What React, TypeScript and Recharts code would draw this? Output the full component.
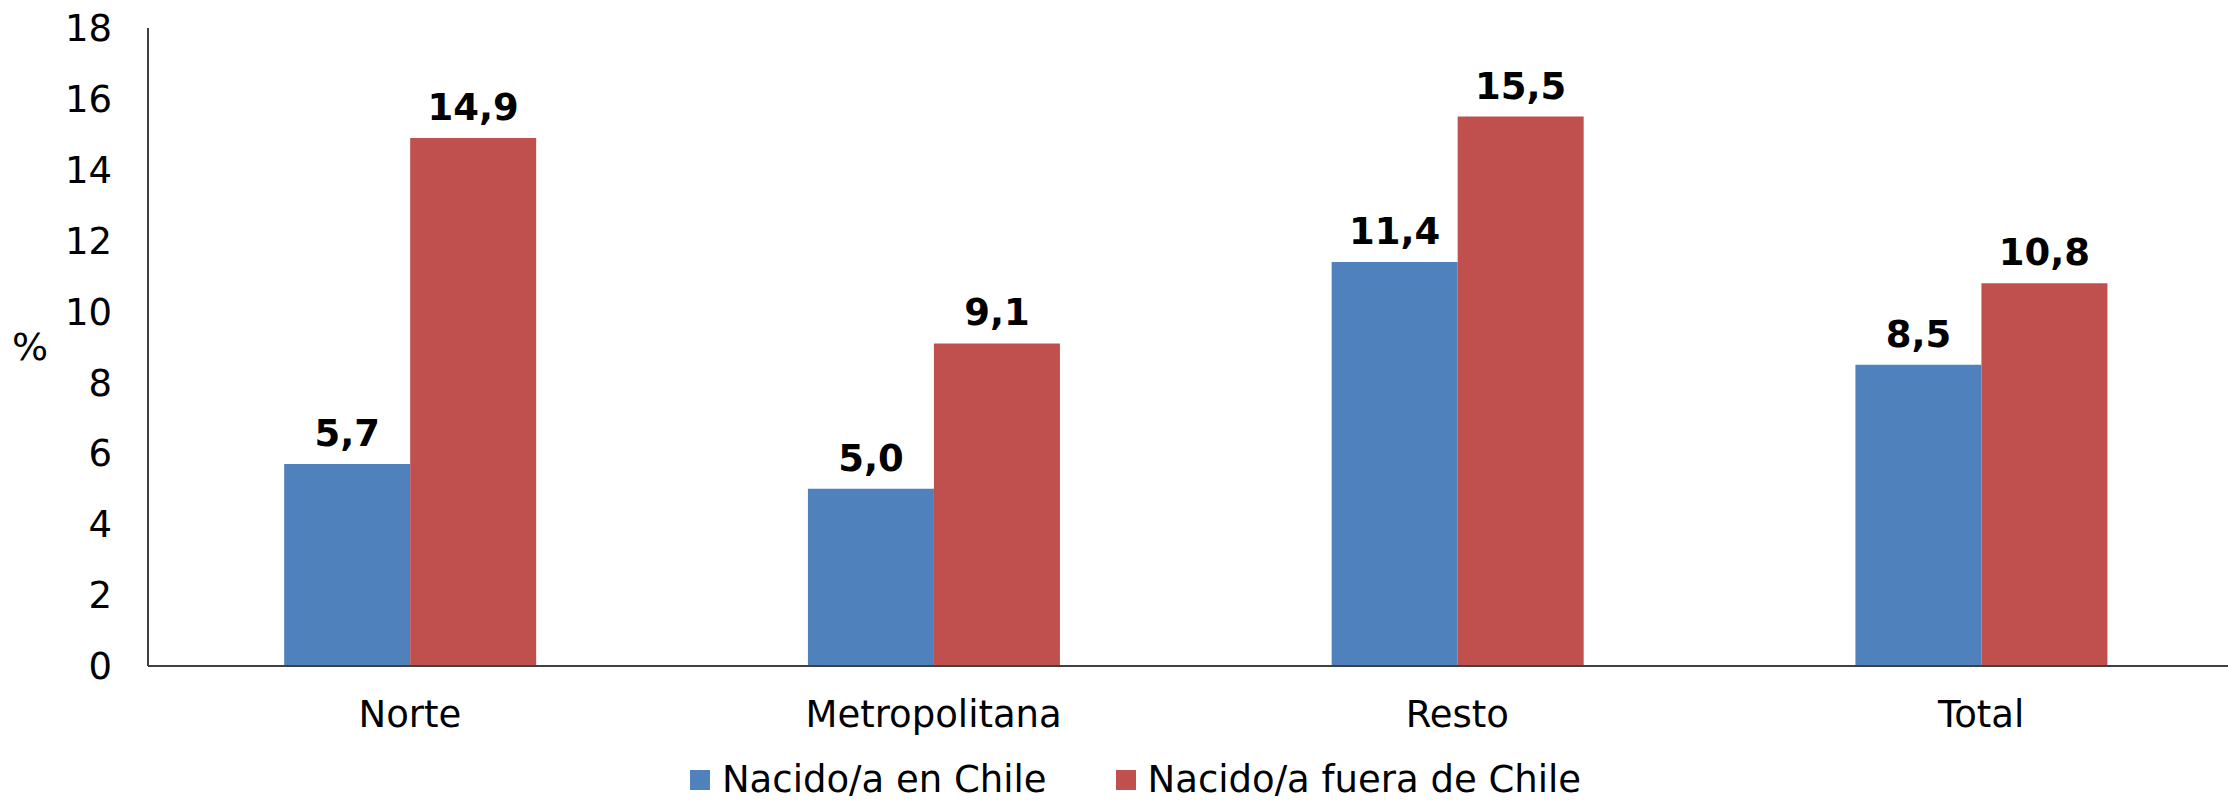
import { Bar, BarChart, LabelList, Legend, XAxis, YAxis } from "recharts";

const regions = ["Norte", "Metropolitana", "Resto", "Total"];
const bornInChile = [5.7, 5.0, 11.4, 8.5];
const bornAbroad = [14.9, 9.1, 15.5, 10.8];
const yTicks = [0, 2, 4, 6, 8, 10, 12, 14, 16, 18];

const seriesNames = ["Nacido/a en Chile", "Nacido/a fuera de Chile"];
const colors = ["#4F81BD", "#C0504D"];

const data = regions.map((region, i) => ({
  region,
  chile: bornInChile[i],
  fuera: bornAbroad[i],
}));

const font = "'DejaVu Sans', Verdana, sans-serif";
const fmt = (v: any) => Number(v).toFixed(1).replace(".", ",");

function LegendContent() {
  return (
    <div
      style={{
        display: "flex",
        justifyContent: "center",
        alignItems: "center",
        boxSizing: "border-box",
        height: 46,
        paddingTop: 4,
        paddingLeft: 28,
        fontFamily: font,
        fontSize: 37,
        lineHeight: "42px",
        color: "#000",
      }}
    >
      {seriesNames.map((name, i) => (
        <div key={name} style={{ display: "flex", alignItems: "center", marginRight: i === 0 ? 69 : 0 }}>
          <span style={{ width: 20, height: 20, background: colors[i], marginRight: 12, display: "inline-block" }} />
          <span>{name}</span>
        </div>
      ))}
    </div>
  );
}

export default function App() {
  return (
    <div style={{ position: "absolute", left: 0, top: 0, background: "#fff", width: 2228, height: 803 }}>
      <BarChart
        width={2228}
        height={803}
        data={data}
        margin={{ top: 28, right: -15, left: 0, bottom: 2 }}
        barGap={0}
        barCategoryGap="26%"
      >
        <XAxis
          dataKey="region"
          height={89}
          tickLine={false}
          tickSize={6}
          tickMargin={29}
          stroke="#404040"
          strokeWidth={2}
          tick={{ fill: "#000", fontSize: 37, fontFamily: font }}
        />
        <YAxis
          width={148}
          domain={[0, 18]}
          ticks={yTicks}
          interval={0}
          tickLine={false}
          tickSize={6}
          tickMargin={30}
          stroke="#404040"
          strokeWidth={2}
          tick={{ fill: "#000", fontSize: 37, fontFamily: font }}
          label={{
            value: "%",
            position: "insideLeft",
            offset: 12,
            fill: "#000",
            fontSize: 38,
            fontFamily: font,
          }}
        />
        <Legend verticalAlign="bottom" align="center" content={<LegendContent />} />
        <Bar dataKey="chile" name={seriesNames[0]} fill={colors[0]} isAnimationActive={false}>
          <LabelList
            dataKey="chile"
            position="top"
            offset={18}
            formatter={fmt}
            fill="#000"
            fontSize={37}
            fontWeight="bold"
            fontFamily={font}
          />
        </Bar>
        <Bar dataKey="fuera" name={seriesNames[1]} fill={colors[1]} isAnimationActive={false}>
          <LabelList
            dataKey="fuera"
            position="top"
            offset={18}
            formatter={fmt}
            fill="#000"
            fontSize={37}
            fontWeight="bold"
            fontFamily={font}
          />
        </Bar>
      </BarChart>
    </div>
  );
}
